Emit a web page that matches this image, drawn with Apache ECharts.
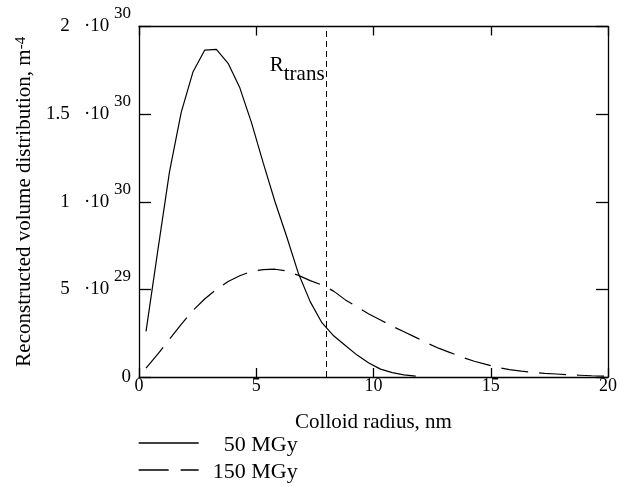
<!DOCTYPE html>
<html>
<head>
<meta charset="utf-8">
<script src="https://cdn.jsdelivr.net/npm/echarts@6/dist/echarts.min.js"></script>
<style>
html,body{margin:0;padding:0;background:#fff;}
#c{width:620px;height:487px;}
</style>
</head>
<body>
<div id="c"></div>
<script>
// Colloid radius (nm) sample positions
var radius50 = [0.3,0.8,1.3,1.8,2.3,2.8,3.3,3.8,4.3,4.8,5.3,5.8,6.3,6.8,7.3,7.8,8.3,8.8,9.3,9.8,10.3,10.8,11.3,11.8];
// 50 MGy, units of 1e30 m^-4
var dist50 = [0.26,0.72,1.17,1.51,1.74,1.865,1.87,1.79,1.65,1.45,1.22,1.00,0.80,0.59,0.43,0.31,0.235,0.18,0.125,0.08,0.045,0.025,0.012,0.005];
var radius150 = [0.3,0.8,1.3,1.8,2.3,2.8,3.3,3.8,4.3,4.8,5.3,5.8,6.3,6.8,7.3,7.8,8.3,8.8,9.3,9.8,10.3,10.8,11.3,11.8,12.3,12.8,13.3,13.8,14.3,14.8,15.3,15.8,16.3,16.8,17.3,17.8,18.3,18.8,19.3,19.8,20.0];
// 150 MGy, units of 1e30 m^-4
var dist150 = [0.05,0.13,0.215,0.30,0.38,0.445,0.50,0.545,0.578,0.603,0.613,0.615,0.605,0.58,0.55,0.525,0.49,0.44,0.40,0.36,0.325,0.29,0.258,0.226,0.193,0.163,0.138,0.112,0.09,0.072,0.055,0.042,0.033,0.026,0.021,0.017,0.013,0.010,0.007,0.005,0.004];
var seriesNames = ['50 MGy','150 MGy'];
var rTrans = 8;
var xTicks = [0,5,10,15,20];
var yTickValues = [0,0.5,1,1.5,2];
var yTickMantissa = ['0','5','1','1.5','2'];
var yTickExponent = ['','29','30','30','30'];

function zip(xs, ys){ return xs.map(function(x,i){ return [x, ys[i]]; }); }

var FONT = "'Liberation Serif','Times New Roman',serif";
var chart = echarts.init(document.getElementById('c'), null, {renderer:'canvas'});

var axisLineStyle = {color:'#000', width:1.3};

var option = {
  animation:false,
  backgroundColor:'#fff',
  textStyle:{fontFamily:FONT, color:'#000'},
  grid:{left:139, right:7, top:26.5, bottom:110, containLabel:false},
  legend:{
    orient:'vertical', left:133, top:424.5, itemWidth:60, itemHeight:27, itemGap:0,
    height:62,
    data:[
      {name:seriesNames[0], lineStyle:{type:'solid', width:1.3, color:'#000'}},
      {name:seriesNames[1], lineStyle:{type:[30,12], width:1.3, color:'#000'}}
    ],
    itemStyle:{opacity:0},
    formatter:function(n){ return '{a|' + n + '}'; },
    textStyle:{fontFamily:FONT, color:'#000', rich:{a:{fontFamily:FONT, fontSize:22, lineHeight:22, padding:[5,0,0,0], width:94, align:'right', color:'#000'}}}
  },
  xAxis:[{
    type:'value', min:xTicks[0], max:xTicks[xTicks.length-1], interval:5, position:'bottom',
    name:'Colloid radius, nm', nameLocation:'middle', nameGap:35,
    nameTextStyle:{fontFamily:FONT, fontSize:21, color:'#000'},
    axisLine:{show:true, onZero:false, lineStyle:axisLineStyle},
    axisTick:{show:true, inside:true, length:9, lineStyle:axisLineStyle},
    axisLabel:{show:true, margin:0, fontFamily:FONT, fontSize:18, color:'#000'},
    splitLine:{show:false}
  },{
    type:'value', min:xTicks[0], max:xTicks[xTicks.length-1], interval:5, position:'top',
    axisLine:{show:true, onZero:false, lineStyle:axisLineStyle},
    axisTick:{show:true, inside:true, length:9, lineStyle:axisLineStyle},
    axisLabel:{show:false}, splitLine:{show:false}
  }],
  yAxis:[{
    type:'value', min:0, max:2, interval:0.5, position:'left',
    name:'Reconstructed volume distribution, m{s|-4}', nameLocation:'middle', nameGap:100, nameRotate:90,
    nameTextStyle:{fontFamily:FONT, fontSize:21, color:'#000',
      rich:{s:{fontFamily:FONT, fontSize:15, verticalAlign:'top', lineHeight:15, color:'#000'}}},
    axisLine:{show:true, onZero:false, lineStyle:axisLineStyle},
    axisTick:{show:true, inside:true, length:12, lineStyle:axisLineStyle},
    axisLabel:{show:true, margin:8, fontFamily:FONT, color:'#000',
      formatter:function(v){
        var i = yTickValues.indexOf(v);
        if (i < 0) return '';
        if (!yTickExponent[i]) return '{b|' + yTickMantissa[i] + '}';
        return '{b|' + yTickMantissa[i] + '   \u00b710 }{s|' + yTickExponent[i] + '}';
      },
      rich:{
        b:{fontFamily:FONT, fontSize:19, lineHeight:42, verticalAlign:'middle', color:'#000'},
        s:{fontFamily:FONT, fontSize:17, lineHeight:17, verticalAlign:'top', color:'#000'}
      }
    },
    splitLine:{show:false}
  },{
    type:'value', min:0, max:2, interval:0.5, position:'right',
    axisLine:{show:true, onZero:false, lineStyle:axisLineStyle},
    axisTick:{show:true, inside:true, length:12, lineStyle:axisLineStyle},
    axisLabel:{show:false}, splitLine:{show:false}
  }],
  series:[{
    name:seriesNames[0], type:'line', data:zip(radius50, dist50),
    symbol:'none', showSymbol:false, smooth:false,
    lineStyle:{color:'#000', width:1.2, type:'solid'},
    itemStyle:{color:'#000'},
    markLine:{
      silent:true, symbol:['none','none'],
      lineStyle:{color:'#000', width:1, type:[6,4]},
      label:{show:false},
      data:[{xAxis:rTrans}]
    },
    markPoint:{
      silent:true, symbol:'circle', symbolSize:0,
      data:[{coord:[rTrans, 1.75], value:''}],
      label:{show:true, position:'left', distance:2,
        formatter:'{r|R}{t|trans}',
        rich:{
          r:{fontFamily:FONT, fontSize:21, lineHeight:21, padding:[0,0,9,0], color:'#000'},
          t:{fontFamily:FONT, fontSize:21, lineHeight:21, padding:[9,0,0,0], color:'#000'}
        }
      }
    }
  },{
    name:seriesNames[1], type:'line', data:zip(radius150, dist150),
    symbol:'none', showSymbol:false, smooth:false,
    lineStyle:{color:'#000', width:1.2, type:[27,11]},
    itemStyle:{color:'#000'}
  }]
};
chart.setOption(option);
</script>
</body>
</html>
